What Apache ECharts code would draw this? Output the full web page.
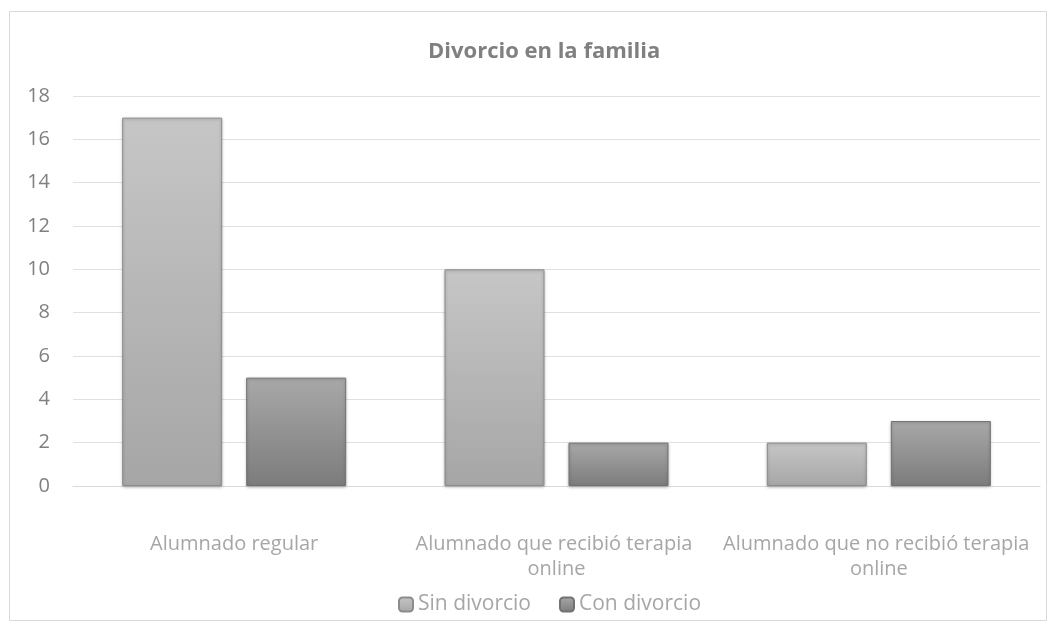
<!DOCTYPE html>
<html><head><meta charset="utf-8">
<script src="https://cdn.jsdelivr.net/npm/echarts@6/dist/echarts.min.js"></script>
<style>html,body{margin:0;padding:0;background:#fff}#c{width:1057px;height:632px}</style>
</head><body><div id="c"></div>
<script>
const categories = ["Alumnado regular", "Alumnado que recibió terapia online", "Alumnado que no recibió terapia online"];
const sinDivorcio = [17, 10, 2];
const conDivorcio = [5, 2, 3];
const seriesNames = ["Sin divorcio", "Con divorcio"];
const titleText = "Divorcio en la familia";

const font = "'Open Sans', 'Noto Sans', sans-serif";
function grad(a, b) {
  return new echarts.graphic.LinearGradient(0, 0, 0, 1, [{offset: 0, color: a}, {offset: 1, color: b}]);
}
const chart = echarts.init(document.getElementById('c'), null, {renderer: 'canvas'});
chart.setOption({
  animation: false,
  backgroundColor: '#ffffff',
  title: {text: titleText, left: 423, top: 36,
    textStyle: {fontFamily: font, fontSize: 22, fontWeight: 'bold', color: '#808080'}},
  graphic: [{type: 'rect', shape: {x: 9.5, y: 11.5, width: 1037, height: 609},
    style: {fill: 'none', stroke: '#d9d9d9', lineWidth: 1}, silent: true}],
  legend: {top: 589, left: 393, itemWidth: 14, itemHeight: 14, itemGap: 28,
    textStyle: {fontFamily: font, fontSize: 21, color: '#a6a6a6'},
    data: seriesNames},
  grid: {left: 73, right: 17, top: 96, bottom: 146},
  xAxis: {type: 'category', data: categories,
    axisLine: {lineStyle: {color: '#d9d9d9'}}, axisTick: {show: false},
    axisLabel: {interval: 0, margin: 46, width: 322, overflow: 'break', lineHeight: 25,
      fontFamily: font, fontSize: 20, color: '#a6a6a6'}},
  yAxis: {type: 'value', min: 0, max: 18, interval: 2,
    axisLine: {show: false}, axisTick: {show: false},
    splitLine: {lineStyle: {color: '#e0e0e0'}},
    axisLabel: {margin: 23, fontFamily: font, fontSize: 20, color: '#808080'}},
  series: [
    {name: seriesNames[0], type: 'bar', data: sinDivorcio, barWidth: 100, barGap: '24%',
      itemStyle: {color: grad('#c6c6c6', '#a6a6a6'), borderColor: '#8c8c8c', borderWidth: 1,
        shadowColor: 'rgba(0,0,0,0.25)', shadowBlur: 3, shadowOffsetY: 1}},
    {name: seriesNames[1], type: 'bar', data: conDivorcio, barWidth: 100,
      itemStyle: {color: grad('#a8a8a8', '#7c7c7c'), borderColor: '#727272', borderWidth: 1,
        shadowColor: 'rgba(0,0,0,0.25)', shadowBlur: 3, shadowOffsetY: 1}}
  ]
});
</script></body></html>
